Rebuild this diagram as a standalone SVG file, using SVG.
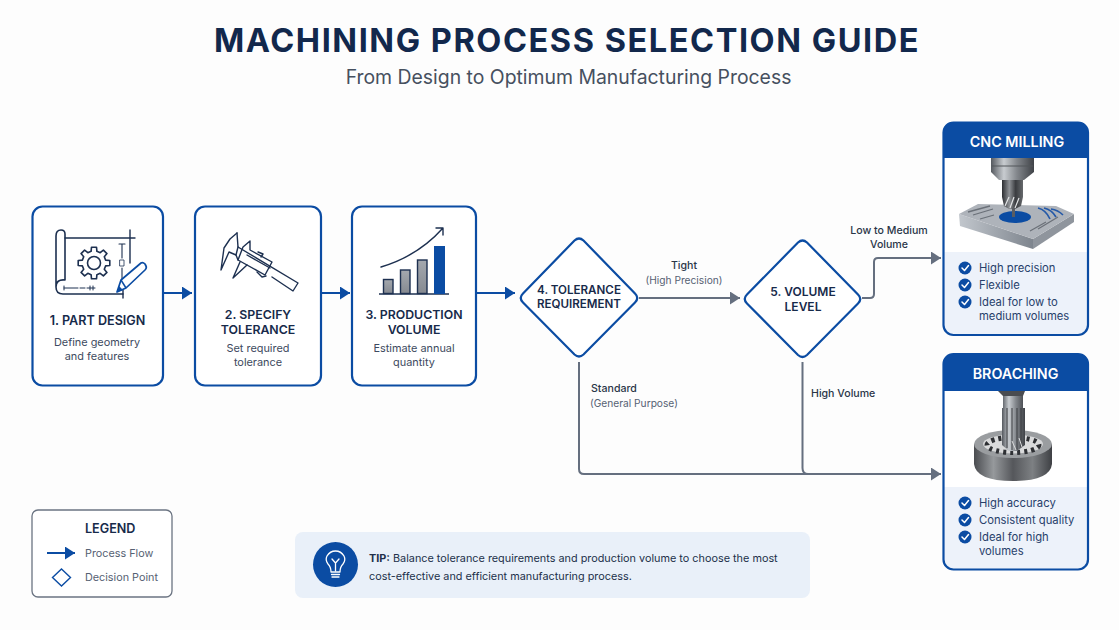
<svg xmlns="http://www.w3.org/2000/svg" width="1119" height="630" viewBox="0 0 1119 630">
<style>
text{font-family:Inter,"Liberation Sans",sans-serif}
.box{fill:#fff;stroke:#0b4ca3;stroke-width:2.2}
.nt{font-size:12.3px;font-weight:600;fill:#172a4a;text-anchor:middle}
.ns{font-size:10.9px;fill:#3d4a60;text-anchor:middle}
.lb{font-size:10.6px;fill:#2a3648;font-weight:500}
.lg{font-size:10.2px;fill:#566173}
.ll{font-size:10.8px;fill:#566173}
.ct{font-size:14.3px;font-weight:600;fill:#fff;text-anchor:middle}
.li{font-size:11.25px;fill:#27406a}
.flow{fill:none;stroke:#0b4ca3;stroke-width:2}
.dec{fill:none;stroke:#656f7f;stroke-width:2}
.ic{fill:none;stroke:#1d3050;stroke-width:1.4;stroke-linecap:round;stroke-linejoin:round}
.chk{fill:#0b4ca3}
.tick{fill:none;stroke:#fff;stroke-width:1.5;stroke-linecap:round;stroke-linejoin:round}
</style>
<defs>
<marker id="ab" markerUnits="userSpaceOnUse" markerWidth="11" markerHeight="14" refX="10" refY="6.5" orient="auto"><path d="M0 0L10 6.5L0 13Z" fill="#0b4ca3"/></marker>
<marker id="ag" markerUnits="userSpaceOnUse" markerWidth="11" markerHeight="14" refX="10" refY="6.5" orient="auto"><path d="M0 0L10 6.5L0 13Z" fill="#656f7f"/></marker>
<linearGradient id="steel" x1="0" x2="1" y1="0" y2="0"><stop offset="0" stop-color="#55595f"/><stop offset=".3" stop-color="#c8ccd0"/><stop offset=".6" stop-color="#83878c"/><stop offset="1" stop-color="#3f4247"/></linearGradient>
<linearGradient id="dark" x1="0" x2="1" y1="0" y2="0"><stop offset="0" stop-color="#2c2e32"/><stop offset=".35" stop-color="#8f9296"/><stop offset=".65" stop-color="#3a3c40"/><stop offset="1" stop-color="#66696c"/></linearGradient>
<linearGradient id="ring" x1="0" x2="1" y1="0" y2="0"><stop offset="0" stop-color="#4a4c50"/><stop offset=".25" stop-color="#96999c"/><stop offset=".5" stop-color="#55575b"/><stop offset=".75" stop-color="#7d8083"/><stop offset="1" stop-color="#3e4044"/></linearGradient>
<linearGradient id="block" x1="0" x2="1" y1="0" y2="0"><stop offset="0" stop-color="#c2c7cd"/><stop offset="1" stop-color="#7e858e"/></linearGradient>
<linearGradient id="bar" x1="0" x2="0" y1="0" y2="1"><stop offset="0" stop-color="#a4a8ae"/><stop offset="1" stop-color="#868a91"/></linearGradient>
</defs>
<rect width="1119" height="630" fill="#fdfdfd"/>
<text x="567" y="52" text-anchor="middle" font-size="32.5" font-weight="700" fill="#12284c" letter-spacing="1.55">MACHINING PROCESS SELECTION GUIDE</text>
<text x="568.500" y="84" text-anchor="middle" font-size="19.4" fill="#46505f">From Design to Optimum Manufacturing Process</text>

<g id="connectors">
<path class="flow" marker-end="url(#ab)" d="M163 293H192"/>
<path class="flow" marker-end="url(#ab)" d="M321 293H350"/>
<path class="flow" marker-end="url(#ab)" d="M476 293H515"/>
<path class="dec" marker-end="url(#ag)" d="M639 298H740"/>
<path class="dec" marker-end="url(#ag)" d="M862 298H870Q874 298 874 294V262Q874 258 878 258H941"/>
<path class="dec" marker-end="url(#ag)" d="M579 362V469Q579 474 584 474H941"/>
<path class="dec" d="M802.500 362V468Q802.500 474 808 474"/>
</g>

<g id="edge-labels">
<text class="lb" x="684" y="269" text-anchor="middle">Tight</text>
<text class="lg" x="684" y="284" text-anchor="middle">(High Precision)</text>
<text class="lb" x="889" y="234" text-anchor="middle">Low to Medium</text>
<text class="lb" x="889" y="248" text-anchor="middle">Volume</text>
<text class="lb" x="591" y="392">Standard</text>
<text class="lg" x="590" y="407">(General Purpose)</text>
<text class="lb" x="811" y="397">High Volume</text>
</g>

<g id="node-1">
<rect class="box" x="32.500" y="206.500" width="130.500" height="179" rx="10"/>
<g class="ic">
<path stroke-width="1.600" d="M65 280V234Q65 230 61 230Q56 230 56 236V287Q56 294 63 294H123M65 280Q56 279 56 287"/>
<path d="M65 238H135M130 230V263M123 290V298"/>
<path d="M122 244V258M122 268V280M119 244H125" stroke-width="1.100"/>
<path d="M120 260H124V266H120Z" stroke-width=".8"/>
<path d="M64 288H78M64 286V290M80 288H85M87 288H95M90 286V290M93 286V290" stroke-width="1"/>
<circle cx="94" cy="263" r="6.500" stroke-width="1.600"/>
<path transform="translate(94 263)" stroke-width="1.600" d="M11.64 -2.9L15.8 -2.5L15.8 2.5L11.64 2.9L10.29 6.18L12.94 9.4L9.4 12.94L6.18 10.29L2.9 11.64L2.5 15.8L-2.5 15.8L-2.9 11.64L-6.18 10.29L-9.4 12.94L-12.94 9.4L-10.29 6.18L-11.64 2.9L-15.8 2.5L-15.8 -2.5L-11.64 -2.9L-10.29 -6.18L-12.94 -9.4L-9.4 -12.94L-6.18 -10.29L-2.9 -11.64L-2.5 -15.8L2.5 -15.8L2.9 -11.64L6.18 -10.29L9.4 -12.94L12.94 -9.4L10.29 -6.18Z"/>
</g>
<path d="M117 292L121 280L141 263Q143 262 145 264L146 266Q147 268 145 270L126 288Z" fill="#fff" stroke="#0b4ca3" stroke-width="1.700" stroke-linejoin="round"/>
<path d="M121 280L126 288" stroke="#0b4ca3" stroke-width="1.500"/><path d="M117 292L119 286L123 290Z" fill="#0b4ca3"/>
<text class="nt" style="font-size:12.6px" x="97.500" y="325">1. PART DESIGN</text>
<text class="ns" x="97" y="346">Define geometry</text>
<text class="ns" x="97" y="360">and features</text>
</g>

<g id="node-2">
<rect class="box" x="195" y="206.500" width="126" height="179" rx="10"/>
<g class="ic" stroke-width="1.500">
<path d="M237 233L238 247L298 283L293 291L272 277"/>
<path d="M237 233L230 239L224 248L221 270L229 252L236 255L238 247"/>
<path d="M243 247L250 241L250 250L272 262L265 275L238 260Z"/>
<path d="M247 255L270 268"/>
<path d="M240 262L233 278L247 265"/>
<path d="M258 252L263 254L261 257M257 272L262 277L266 276"/>
<path d="M236 255L238 260"/>
</g>
<text class="nt" x="258" y="319">2. SPECIFY</text>
<text class="nt" x="258" y="334">TOLERANCE</text>
<text class="ns" x="258" y="352">Set required</text>
<text class="ns" x="258" y="366">tolerance</text>
</g>

<g id="node-3">
<rect class="box" x="352" y="206.500" width="124" height="179" rx="10"/>
<path d="M379 294H449" fill="none" stroke="#1d3050" stroke-width="1.500"/>
<g fill="url(#bar)" stroke="#1d3050" stroke-width="1.400">
<rect x="383.500" y="279.500" width="9.500" height="14"/>
<rect x="400.500" y="270" width="9.500" height="23.500"/>
<rect x="417.500" y="260" width="9.500" height="33.500"/>
</g>
<rect x="434" y="246" width="11" height="48" fill="#0b4ca3"/>
<path class="ic" stroke-width="1.600" d="M381 267Q418 256 443 228M436 228H443V235"/>
<text class="nt" x="414" y="319">3. PRODUCTION</text>
<text class="nt" x="414" y="334">VOLUME</text>
<text class="ns" x="414" y="352">Estimate annual</text>
<text class="ns" x="414" y="366">quantity</text>
</g>

<g id="node-4">
<path class="box" d="M574.500 240.500Q579 236.500 583.500 240.500L635 293.500Q639.500 298 635 302.500L583.500 354.500Q579 358.500 574.500 354.500L523 302.500Q518.500 298 523 293.500Z"/>
<text class="nt" style="font-size:11.6px" x="579" y="293.500">4. TOLERANCE</text>
<text class="nt" style="font-size:11.6px" x="579" y="308">REQUIREMENT</text>
</g>

<g id="node-5">
<path class="box" d="M798 242.500Q802.500 238.500 807 242.500L858 294.500Q862.500 299 858 303.500L807 355Q802.500 359 798 355L747 303.500Q742.500 299 747 294.500Z"/>
<text class="nt" style="font-size:12px" x="803" y="296">5. VOLUME</text>
<text class="nt" style="font-size:12px" x="803" y="311">LEVEL</text>
</g>

<g id="card-cnc">
<rect x="944" y="123" width="144" height="212" rx="10" fill="#fff"/>
<path d="M944.500 252H1087.500V325Q1087.500 334.500 1078 334.500H954Q944.500 334.500 944.500 325Z" fill="#edf2fa"/>
<path d="M959 214L1033 239V249L960 226Z" fill="url(#block)"/>
<path d="M1033 239L1074 214V222L1033 249Z" fill="#8f959d"/>
<path d="M959 214L978 204L1056 206L1074 214L1033 239Z" fill="#aeb3ba"/>
<path d="M968 212L990 206M973 215L993 209M980 219L994 215M1038 229L1058 217M1030 231L1046 222" stroke="#6b7179" stroke-width="1.300" fill="none"/>
<ellipse cx="1015" cy="217" rx="16" ry="6" fill="#0b4ca3"/>
<g fill="none" stroke="#2459a8" stroke-width="1.700">
<path d="M1038 208Q1046 210 1050 219"/><path d="M1044 208Q1052 210 1056 217"/><path d="M1051 209Q1058 210 1063 215"/>
</g>
<path d="M991 158H1034V172L1024 180H999L991 172Z" fill="url(#steel)"/>
<path d="M992 166H1033" stroke="#53565b" stroke-width="1"/>
<rect x="1002" y="180" width="21" height="17" fill="url(#dark)"/>
<path d="M1002 197H1023L1021 206L1015 209H1009L1004 206Z" fill="url(#dark)"/>
<path d="M1005 206L1009 197M1010 208L1014 197M1015 208L1019 198" stroke="#e3e5e7" stroke-width="1.200"/>
<rect x="1012" y="208" width="3" height="9" fill="#5a5d62"/>
<path d="M943.500 158V133Q943.500 122.500 954 122.500H1078Q1088 122.500 1088 133V158Z" fill="#0b4ca3"/>
<rect x="943.500" y="122.500" width="144.500" height="212.500" rx="10" fill="none" stroke="#0b4ca3" stroke-width="2.200"/>
<text class="ct" x="1017" y="146.500">CNC MILLING</text>
<g class="chk">
<circle cx="965" cy="268" r="6.500"/><circle cx="965" cy="285" r="6.500"/><circle cx="965" cy="302" r="6.500"/>
</g>
<path class="tick" d="M962 268L964.500 270.500L968.500 265.500M962 285L964.500 287.500L968.500 282.500M962 302L964.500 304.500L968.500 299.500"/>
<text class="li" x="979" y="272">High precision</text>
<text class="li" x="979" y="289">Flexible</text>
<text class="li" x="979" y="306">Ideal for low to</text>
<text class="li" x="979" y="320">medium volumes</text>
</g>

<g id="card-broaching">
<rect x="944" y="354" width="144" height="216" rx="10" fill="#fff"/>
<path d="M944.500 487H1087.500V560Q1087.500 569.500 1078 569.500H954Q944.500 569.500 944.500 560Z" fill="#edf2fa"/>
<path d="M974 444V464Q976 481 1013 481Q1050 481 1052 464V444Z" fill="url(#ring)"/>
<ellipse cx="1013" cy="444" rx="39" ry="14" fill="#9a9da0"/>
<ellipse cx="1013" cy="444" rx="30" ry="9.500" fill="#d9dadb"/>
<ellipse cx="1013" cy="445" rx="26" ry="7.500" fill="none" stroke="#2e3034" stroke-width="5" stroke-dasharray="3 4"/>
<path d="M1003 392H1023V408H1025V445L1017 451H1009L1002 445V408H1003Z" fill="url(#steel)"/>
<path d="M1007 408V448M1012 408V450M1017 408V450M1021 408V447" stroke="#3a3c40" stroke-width="1"/>
<path d="M1012 441L1016 450M1019 438L1022 447" stroke="#d8d9da" stroke-width="1"/>
<path d="M998 391H1025L1023 396H1003Z" fill="#4a4c50"/>
<path d="M943.500 391V364Q943.500 354 954 354H1078Q1088 354 1088 364V391Z" fill="#0b4ca3"/>
<rect x="943.500" y="354" width="144.500" height="215.500" rx="10" fill="none" stroke="#0b4ca3" stroke-width="2.200"/>
<text class="ct" x="1015.500" y="378.500">BROACHING</text>
<g class="chk">
<circle cx="965" cy="503" r="6.500"/><circle cx="965" cy="520" r="6.500"/><circle cx="965" cy="537" r="6.500"/>
</g>
<path class="tick" d="M962 503L964.500 505.500L968.500 500.500M962 520L964.500 522.500L968.500 517.500M962 537L964.500 539.500L968.500 534.500"/>
<text class="li" x="979" y="507">High accuracy</text>
<text class="li" x="979" y="524">Consistent quality</text>
<text class="li" x="979" y="541">Ideal for high</text>
<text class="li" x="979" y="555">volumes</text>
</g>

<g id="legend">
<rect x="32" y="510" width="140" height="87" rx="6" fill="#fff" stroke="#6b7482" stroke-width="1.300"/>
<text x="85" y="533" font-size="12.600" font-weight="600" fill="#172a4a">LEGEND</text>
<path class="flow" marker-end="url(#ab)" d="M47 553H75"/>
<text class="ll" x="85" y="557">Process Flow</text>
<path d="M61.500 569L70.500 577.500L61.500 586L52.500 577.500Z" fill="none" stroke="#0b4ca3" stroke-width="1.400"/>
<text class="ll" x="85" y="581">Decision Point</text>
</g>

<g id="tip">
<rect x="295" y="532" width="515" height="66" rx="8" fill="#e9f0f9"/>
<circle cx="335.500" cy="564.500" r="22.500" fill="#0b4ca3"/>
<g fill="none" stroke="#fff" stroke-width="1.300" stroke-linecap="round" stroke-linejoin="round">
<path d="M331 572Q331 567 328 564Q325 560 327 556Q330 551 335.500 551Q341 551 344 556Q346 560 343 564Q340 567 340 572Z"/>
<path d="M332 559L335.500 563L339 559M335.500 563V571M331.500 574.500H339.500M332 577H339"/>
</g>
<text x="369" y="562" font-size="10.85" fill="#22304a"><tspan font-weight="700">TIP:</tspan> Balance tolerance requirements and production volume to choose the most</text>
<text x="369" y="580" font-size="10.85" fill="#22304a">cost-effective and efficient manufacturing process.</text>
</g>
</svg>
